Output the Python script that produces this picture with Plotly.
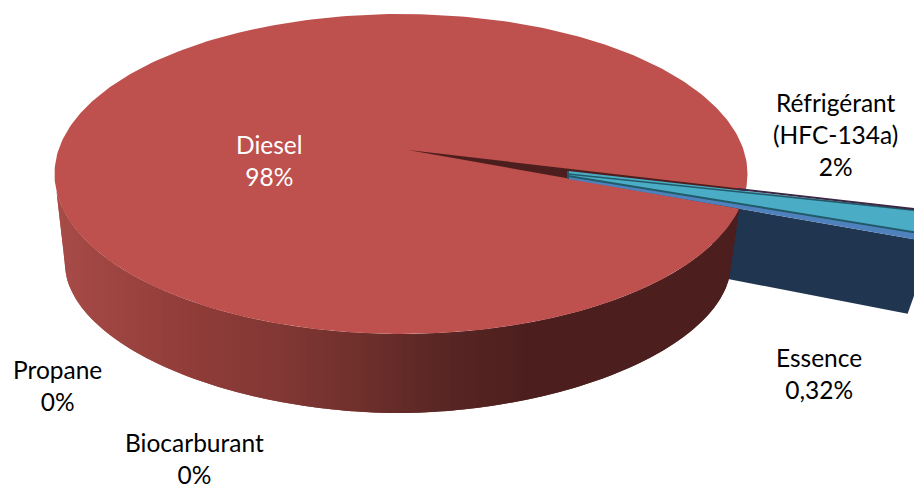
import numpy as np
import plotly.graph_objects as go

# ---- data ----
names = ["Diesel", "Réfrigérant<br>(HFC-134a)", "Essence", "Propane", "Biocarburant"]
shares = [97.68, 2.0, 0.32, 0.0, 0.0]
pct_labels = ["98%", "2%", "0,32%", "0%", "0%"]

# ---- styling and layout ----
W, H = 914, 489
RED_TOP = "#BE504D"
DARK_RED = "#4C1F1E"
CYAN = "#4BACC6"
TEAL = "#215A68"
BLUE = "#4F81BD"
NAVY = "#1F3550"
PURPLE = "#3A2845"
FONT = "Lato"
FONT_SIZE = 24.5
LABEL_POS = [(269, 160, "white"), (835, 134, "black"), (819, 373, "black"),
             (57, 385, "black"), (194, 458, "black")]

# projection of the 3D pie
cx, cy, rx, ry = 401.0, 174.0, 346.5, 160.0      # top face
cxb, cyb, rxb, ryb, pb = 398.0, 265.0, 333.0, 148.0, 1.9  # bottom face (perspective)
apex = (408.0, 150.0)                            # diesel's corner
k_gap = 0.358
first_angle = 18.0
ex_x = 568.0
# (origin y, vertical scale) of each edge of the exploded slices
edge_start = (171.0, 0.346)
edge_ref = (176.0, 0.345)
edge_ess = (179.0, 0.351)
edge_floor = (248.0, 0.391)

# angles of the small slices, from the shares
total = sum(shares)
a_start = first_angle
a_ref = a_start + shares[1] / total * 360
a_ess = a_ref + shares[2] / total * 360


def ray(edge, deg, r):
    t = np.radians(deg)
    return ex_x + r * np.cos(t), edge[0] + r * edge[1] * np.sin(t)


def rim(deg):
    t = np.radians(deg)
    dx, dy = np.cos(t), k_gap * np.sin(t)
    ox, oy = (apex[0] - cx) / rx, (apex[1] - cy) / ry
    ux, uy = dx / rx, dy / ry
    a, b, c = ux**2 + uy**2, 2 * (ox * ux + oy * uy), ox**2 + oy**2 - 1
    s = (-b + np.sqrt(b**2 - 4 * a * c)) / (2 * a)
    x, y = apex[0] + s * dx, apex[1] + s * dy
    return np.arctan2((y - cy) / ry, (x - cx) / rx)


def poly(xs, ys, color):
    return go.Scatter(x=list(xs), y=list(ys), mode="lines", fill="toself", fillcolor=color,
                      line=dict(color=color, width=0), hoverinfo="skip", showlegend=False)


def seg(p, q, color, width):
    return go.Scatter(x=[p[0], q[0]], y=[p[1], q[1]], mode="lines",
                      line=dict(color=color, width=width), hoverinfo="skip", showlegend=False)


fig = go.Figure()

# navy outer/cut face of the exploded slices
r_top, r_bot = 407.0, 379.0
p0 = ray(edge_ess, a_ess, 150)
p1 = ray(edge_ess, a_ess, r_top)
p2 = ray(edge_floor, a_ess, r_bot)
p3 = ray(edge_floor, a_ess, 170)
fig.add_trace(poly([p0[0], p1[0], p2[0], p3[0]], [p0[1], p1[1], p2[1], p3[1]], NAVY))

# gradient side of the diesel slice: vertical strips between the two face outlines;
# each strip runs a little under the next one so that no seam shows
phi_end = rim(a_ess)
rim_pt = (cx + rx * np.cos(phi_end), cy + ry * np.sin(phi_end))
stops_x = [55, 200, 280, 360, 440, 530, 740]
stops_r = [168, 143, 130, 112, 90, 76, 76]
stops_g = [76, 60, 56, 48, 39, 31, 31]
stops_b = [72, 57, 53, 44, 37, 30, 30]

up_phi = np.linspace(np.pi, phi_end, 400)
up_x, up_y = cx + rx * np.cos(up_phi), cy + ry * np.sin(up_phi)
c_vals = np.cos(np.linspace(np.pi, np.radians(6), 400))
lo_x = np.concatenate([[cx - rx], cxb + rxb * c_vals, [rim_pt[0]]])
lo_y = np.concatenate([[cy], cyb + ryb * (1 - np.abs(c_vals) ** pb) ** (1 / pb), [rim_pt[1]]])

step = 3.0
edges = np.append(np.arange(cx - rx, rim_pt[0], step), rim_pt[0])
for x0, x1 in zip(edges[:-1], edges[1:]):
    xm = (x0 + x1) / 2
    col = "rgb(%d,%d,%d)" % (np.interp(xm, stops_x, stops_r), np.interp(xm, stops_x, stops_g),
                             np.interp(xm, stops_x, stops_b))
    x2 = min(x1 + step, rim_pt[0])
    sx = np.linspace(x0, x2, 4)
    xs = np.concatenate([sx, sx[::-1]])
    ys = np.concatenate([np.interp(sx, up_x, up_y), np.interp(sx[::-1], lo_x, lo_y)])
    fig.add_trace(poly(xs, ys, col))

# top face of the diesel slice
phi = np.linspace(0, 2 * np.pi, 361)
fig.add_trace(poly(cx + rx * np.cos(phi), cy + ry * np.sin(phi), RED_TOP))

# opening left by the exploded slices
arc = np.linspace(rim(a_start), rim(a_ess), 12)
fig.add_trace(poly([apex[0], *(cx + rx * np.cos(arc))], [apex[1], *(cy + ry * np.sin(arc))], DARK_RED))

# exploded slices' top faces
R = 460.0
tip = [(ex_x, edge_start[0]), (ex_x, edge_ref[0]), (ex_x, edge_ess[0])]
a1, a2, a3 = ray(edge_start, a_start, R), ray(edge_ref, a_ref, R), ray(edge_ess, a_ess, R)
fig.add_trace(poly([tip[0][0], a1[0], a2[0], tip[1][0]], [tip[0][1], a1[1], a2[1], tip[1][1]], CYAN))
fig.add_trace(poly([tip[1][0], a2[0], a3[0], tip[2][0]], [tip[1][1], a2[1], a3[1], tip[2][1]], BLUE))
fig.add_trace(seg(tip[1], a2, TEAL, 2))
fig.add_trace(seg((ex_x, tip[0][1] + 3), (a1[0], a1[1] - 0.5), TEAL, 1.5))
fig.add_trace(seg((tip[0][0] + 170, tip[0][1] + 170 * 0.1124 - 1), (a1[0], a1[1] - 1), PURPLE, 2))
fig.add_trace(seg(tip[0], tip[2], TEAL, 2))

annotations = []
for name, pct, (x, y, col) in zip(names, pct_labels, LABEL_POS):
    annotations.append(dict(x=x, y=y, xref="x", yref="y", text=f"{name}<br>{pct}", showarrow=False,
                            align="center", xanchor="center", yanchor="middle",
                            font=dict(family=FONT, size=FONT_SIZE, color=col)))

fig.update_layout(width=W, height=H, margin=dict(l=0, r=0, t=0, b=0), paper_bgcolor="white",
                  plot_bgcolor="white", showlegend=False, annotations=annotations,
                  xaxis=dict(range=[0, W], visible=False, fixedrange=True),
                  yaxis=dict(range=[H, 0], visible=False, fixedrange=True))
fig.write_html("out.html", config={"displayModeBar": False},
               post_script="document.body.style.margin='0';document.body.style.overflow='hidden';")
